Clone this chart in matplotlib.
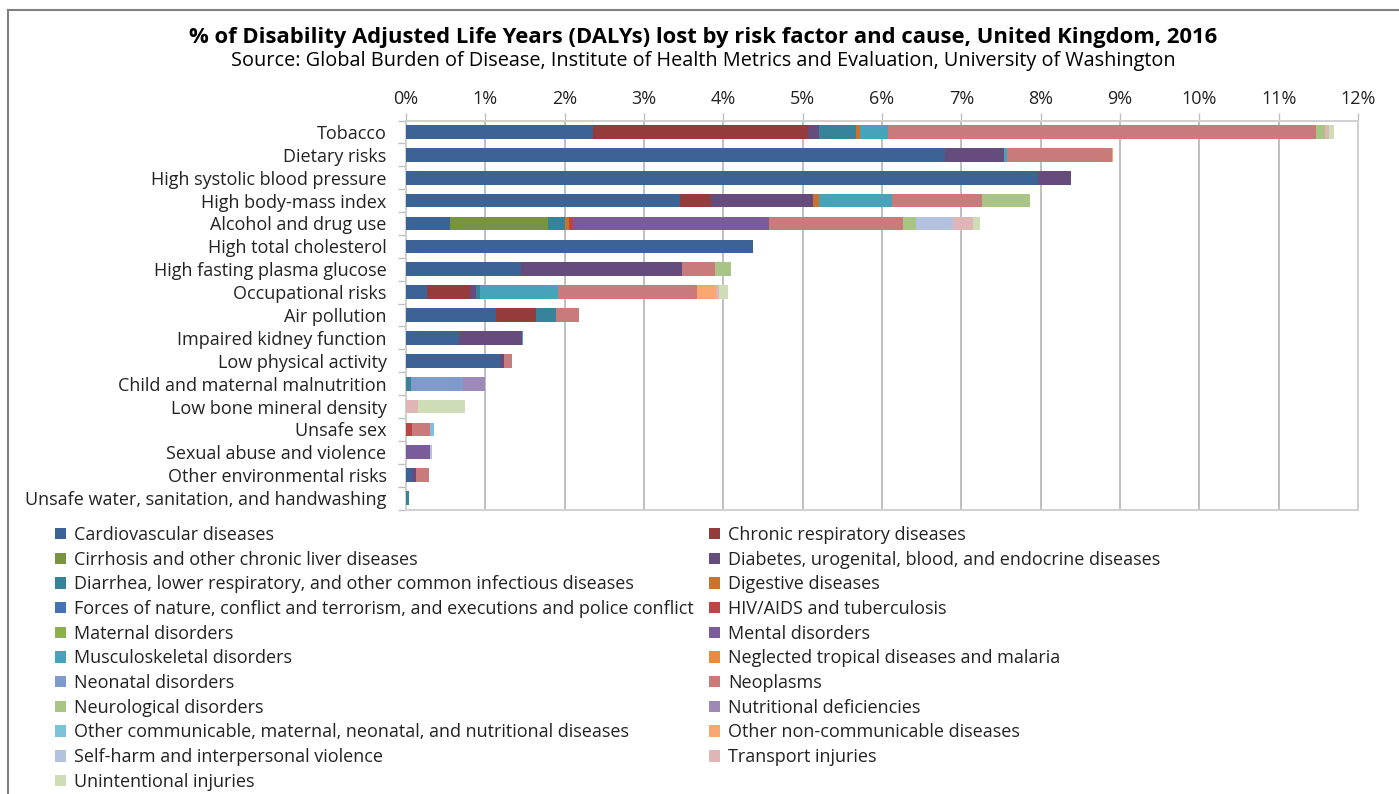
import numpy as np
import matplotlib
matplotlib.use("Agg")
import matplotlib.pyplot as plt
from matplotlib.patches import Patch
from matplotlib.lines import Line2D

plt.rcParams['font.family'] = ['Open Sans', 'DejaVu Sans']

risks = [
    "Tobacco", "Dietary risks", "High systolic blood pressure", "High body-mass index",
    "Alcohol and drug use", "High total cholesterol", "High fasting plasma glucose",
    "Occupational risks", "Air pollution", "Impaired kidney function",
    "Low physical activity", "Child and maternal malnutrition", "Low bone mineral density",
    "Unsafe sex", "Sexual abuse and violence", "Other environmental risks",
    "Unsafe water, sanitation, and handwashing",
]

# % of DALYs per cause, one value per risk factor (same order as risks)
cardiovascular = [2.36, 6.79, 7.97, 3.45, 0.55, 4.37, 1.45, 0.27, 1.14, 0.67, 1.19, 0, 0, 0, 0, 0.08, 0]
chronic_resp   = [2.71, 0, 0, 0.40, 0, 0, 0, 0.54, 0.50, 0, 0, 0, 0, 0, 0, 0, 0]
cirrhosis      = [0, 0, 0, 0, 1.24, 0, 0, 0, 0, 0, 0, 0, 0, 0, 0, 0, 0]
diabetes       = [0.13, 0.75, 0.41, 1.28, 0, 0, 2.03, 0.07, 0, 0.79, 0.05, 0, 0, 0, 0, 0.05, 0]
diarrhea       = [0.47, 0, 0, 0, 0.22, 0, 0, 0.05, 0.25, 0, 0, 0.06, 0, 0, 0, 0, 0.04]
digestive      = [0.05, 0, 0, 0.07, 0.05, 0, 0, 0, 0, 0, 0, 0, 0, 0, 0, 0, 0]
forces         = [0] * 17
hiv_tb         = [0, 0, 0, 0, 0.04, 0, 0, 0, 0, 0, 0, 0, 0, 0.08, 0, 0, 0]
maternal       = [0] * 17
mental         = [0, 0, 0, 0, 2.48, 0, 0, 0, 0, 0, 0, 0, 0, 0, 0.30, 0, 0]
musculoskeletal = [0.35, 0.03, 0, 0.92, 0, 0, 0, 0.98, 0, 0.01, 0, 0, 0, 0, 0, 0, 0]
ntd            = [0] * 17
neonatal       = [0, 0, 0, 0, 0, 0, 0, 0, 0, 0, 0, 0.66, 0, 0, 0, 0, 0]
neoplasms      = [5.40, 1.33, 0, 1.14, 1.68, 0, 0.42, 1.76, 0.29, 0, 0.10, 0, 0, 0.22, 0, 0.16, 0]
neurological   = [0.12, 0, 0, 0.61, 0.17, 0, 0.20, 0, 0, 0, 0, 0, 0, 0, 0, 0, 0]
nutritional    = [0, 0, 0, 0, 0, 0, 0, 0, 0, 0, 0, 0.28, 0, 0, 0, 0, 0]
other_comm     = [0, 0, 0, 0, 0, 0, 0, 0, 0, 0, 0, 0, 0, 0.05, 0, 0, 0]
other_ncd      = [0, 0.01, 0, 0, 0, 0, 0, 0.24, 0, 0, 0, 0, 0, 0, 0, 0, 0]
self_harm      = [0, 0, 0, 0, 0.47, 0, 0, 0, 0, 0, 0, 0, 0, 0, 0.03, 0, 0]
transport      = [0.05, 0, 0, 0, 0.25, 0, 0, 0.04, 0, 0, 0, 0, 0.15, 0, 0, 0, 0]
unintentional  = [0.06, 0, 0, 0, 0.08, 0, 0, 0.11, 0, 0, 0, 0, 0.59, 0, 0, 0, 0]

cause_names = [
    "Cardiovascular diseases", "Chronic respiratory diseases",
    "Cirrhosis and other chronic liver diseases", "Diabetes, urogenital, blood, and endocrine diseases",
    "Diarrhea, lower respiratory, and other common infectious diseases", "Digestive diseases",
    "Forces of nature, conflict and terrorism, and executions and police conflict", "HIV/AIDS and tuberculosis",
    "Maternal disorders", "Mental disorders",
    "Musculoskeletal disorders", "Neglected tropical diseases and malaria",
    "Neonatal disorders", "Neoplasms",
    "Neurological disorders", "Nutritional deficiencies",
    "Other communicable, maternal, neonatal, and nutritional diseases", "Other non-communicable diseases",
    "Self-harm and interpersonal violence", "Transport injuries",
    "Unintentional injuries",
]
cause_values = [cardiovascular, chronic_resp, cirrhosis, diabetes, diarrhea, digestive, forces,
                hiv_tb, maternal, mental, musculoskeletal, ntd, neonatal, neoplasms, neurological,
                nutritional, other_comm, other_ncd, self_harm, transport, unintentional]
colors = ["#3B6395", "#963B3B", "#789440", "#654C7D", "#37849A", "#C8742F",
          "#4572B4", "#B94545", "#8DB04F", "#7B5C9A", "#46A3BA", "#EB8A3C",
          "#7F9BCC", "#C97A7A", "#A9C585", "#9D89B7", "#7DC1D8", "#F8A770",
          "#B3C2DF", "#E0B5B5", "#CFDDB7"]

fig = plt.figure(figsize=(13.99, 7.94), dpi=100)
ax = fig.add_axes([0.2902, 0.3583, 0.6805, 0.4899])

y = np.arange(len(risks))
left = np.zeros(len(risks))
for name, vals, c in zip(cause_names, cause_values, colors):
    vals = np.array(vals, dtype=float)
    ax.barh(y, vals, left=left, height=0.6, color=c, label=name, zorder=3)
    left += vals

ax.set_xlim(0, 12)
ax.set_ylim(len(risks) - 0.5, -0.5)
ax.set_yticks(y)
ax.set_yticklabels(risks, fontsize=13, color="#222222")
ax.set_yticks(np.arange(len(risks) + 1) - 0.5, minor=True)
ax.tick_params(axis='y', which='major', length=0, pad=14)
ax.tick_params(axis='y', which='minor', length=6, color="#BFBFBF", width=1)

ax.xaxis.tick_top()
ax.set_xticks(np.arange(0, 13))
ax.set_xticklabels([f"{i}%" for i in range(13)], fontsize=13, color="#222222")
ax.tick_params(axis='x', length=6, color="#BFBFBF", width=1, pad=3)
ax.grid(axis='x', color="#BFBFBF", linewidth=1.4, zorder=0)
for s in ax.spines.values():
    s.set_color("#D0D0D0")
    s.set_linewidth(1.4)

fig.text(0.5025, 0.953, "% of Disability Adjusted Life Years (DALYs) lost by risk factor and cause, United Kingdom, 2016",
         ha='center', va='center', fontsize=15.8, fontweight='bold')
fig.text(0.5025, 0.923, "Source: Global Burden of Disease, Institute of Health Metrics and Evaluation, University of Washington",
         ha='center', va='center', fontsize=14.3)

# legend is read row by row (alphabetical), so split it into two column legends
handles = [Patch(facecolor=c, edgecolor='none') for c in colors]
leg_kw = dict(loc='upper left', frameon=False, fontsize=13, handlelength=0.6, handleheight=0.6,
              handletextpad=0.45, labelspacing=0.37, borderpad=0, borderaxespad=0,
              labelcolor="#222222")
fig.legend([handles[i] for i in range(0, 21, 2)], [cause_names[i] for i in range(0, 21, 2)],
           bbox_to_anchor=(0.0393, 0.3375), **leg_kw)
fig.legend([handles[i] for i in range(1, 21, 2)], [cause_names[i] for i in range(1, 21, 2)],
           bbox_to_anchor=(0.5068, 0.3375), **leg_kw)

# outer frame (top and left edges visible in the original)
fig.add_artist(Line2D([8 / 1399, 1], [1 - 10 / 794, 1 - 10 / 794], color="#808080", lw=1.5))
fig.add_artist(Line2D([8 / 1399, 8 / 1399], [0, 1 - 10 / 794], color="#808080", lw=1.5))

fig.savefig("out.png", dpi=100)
